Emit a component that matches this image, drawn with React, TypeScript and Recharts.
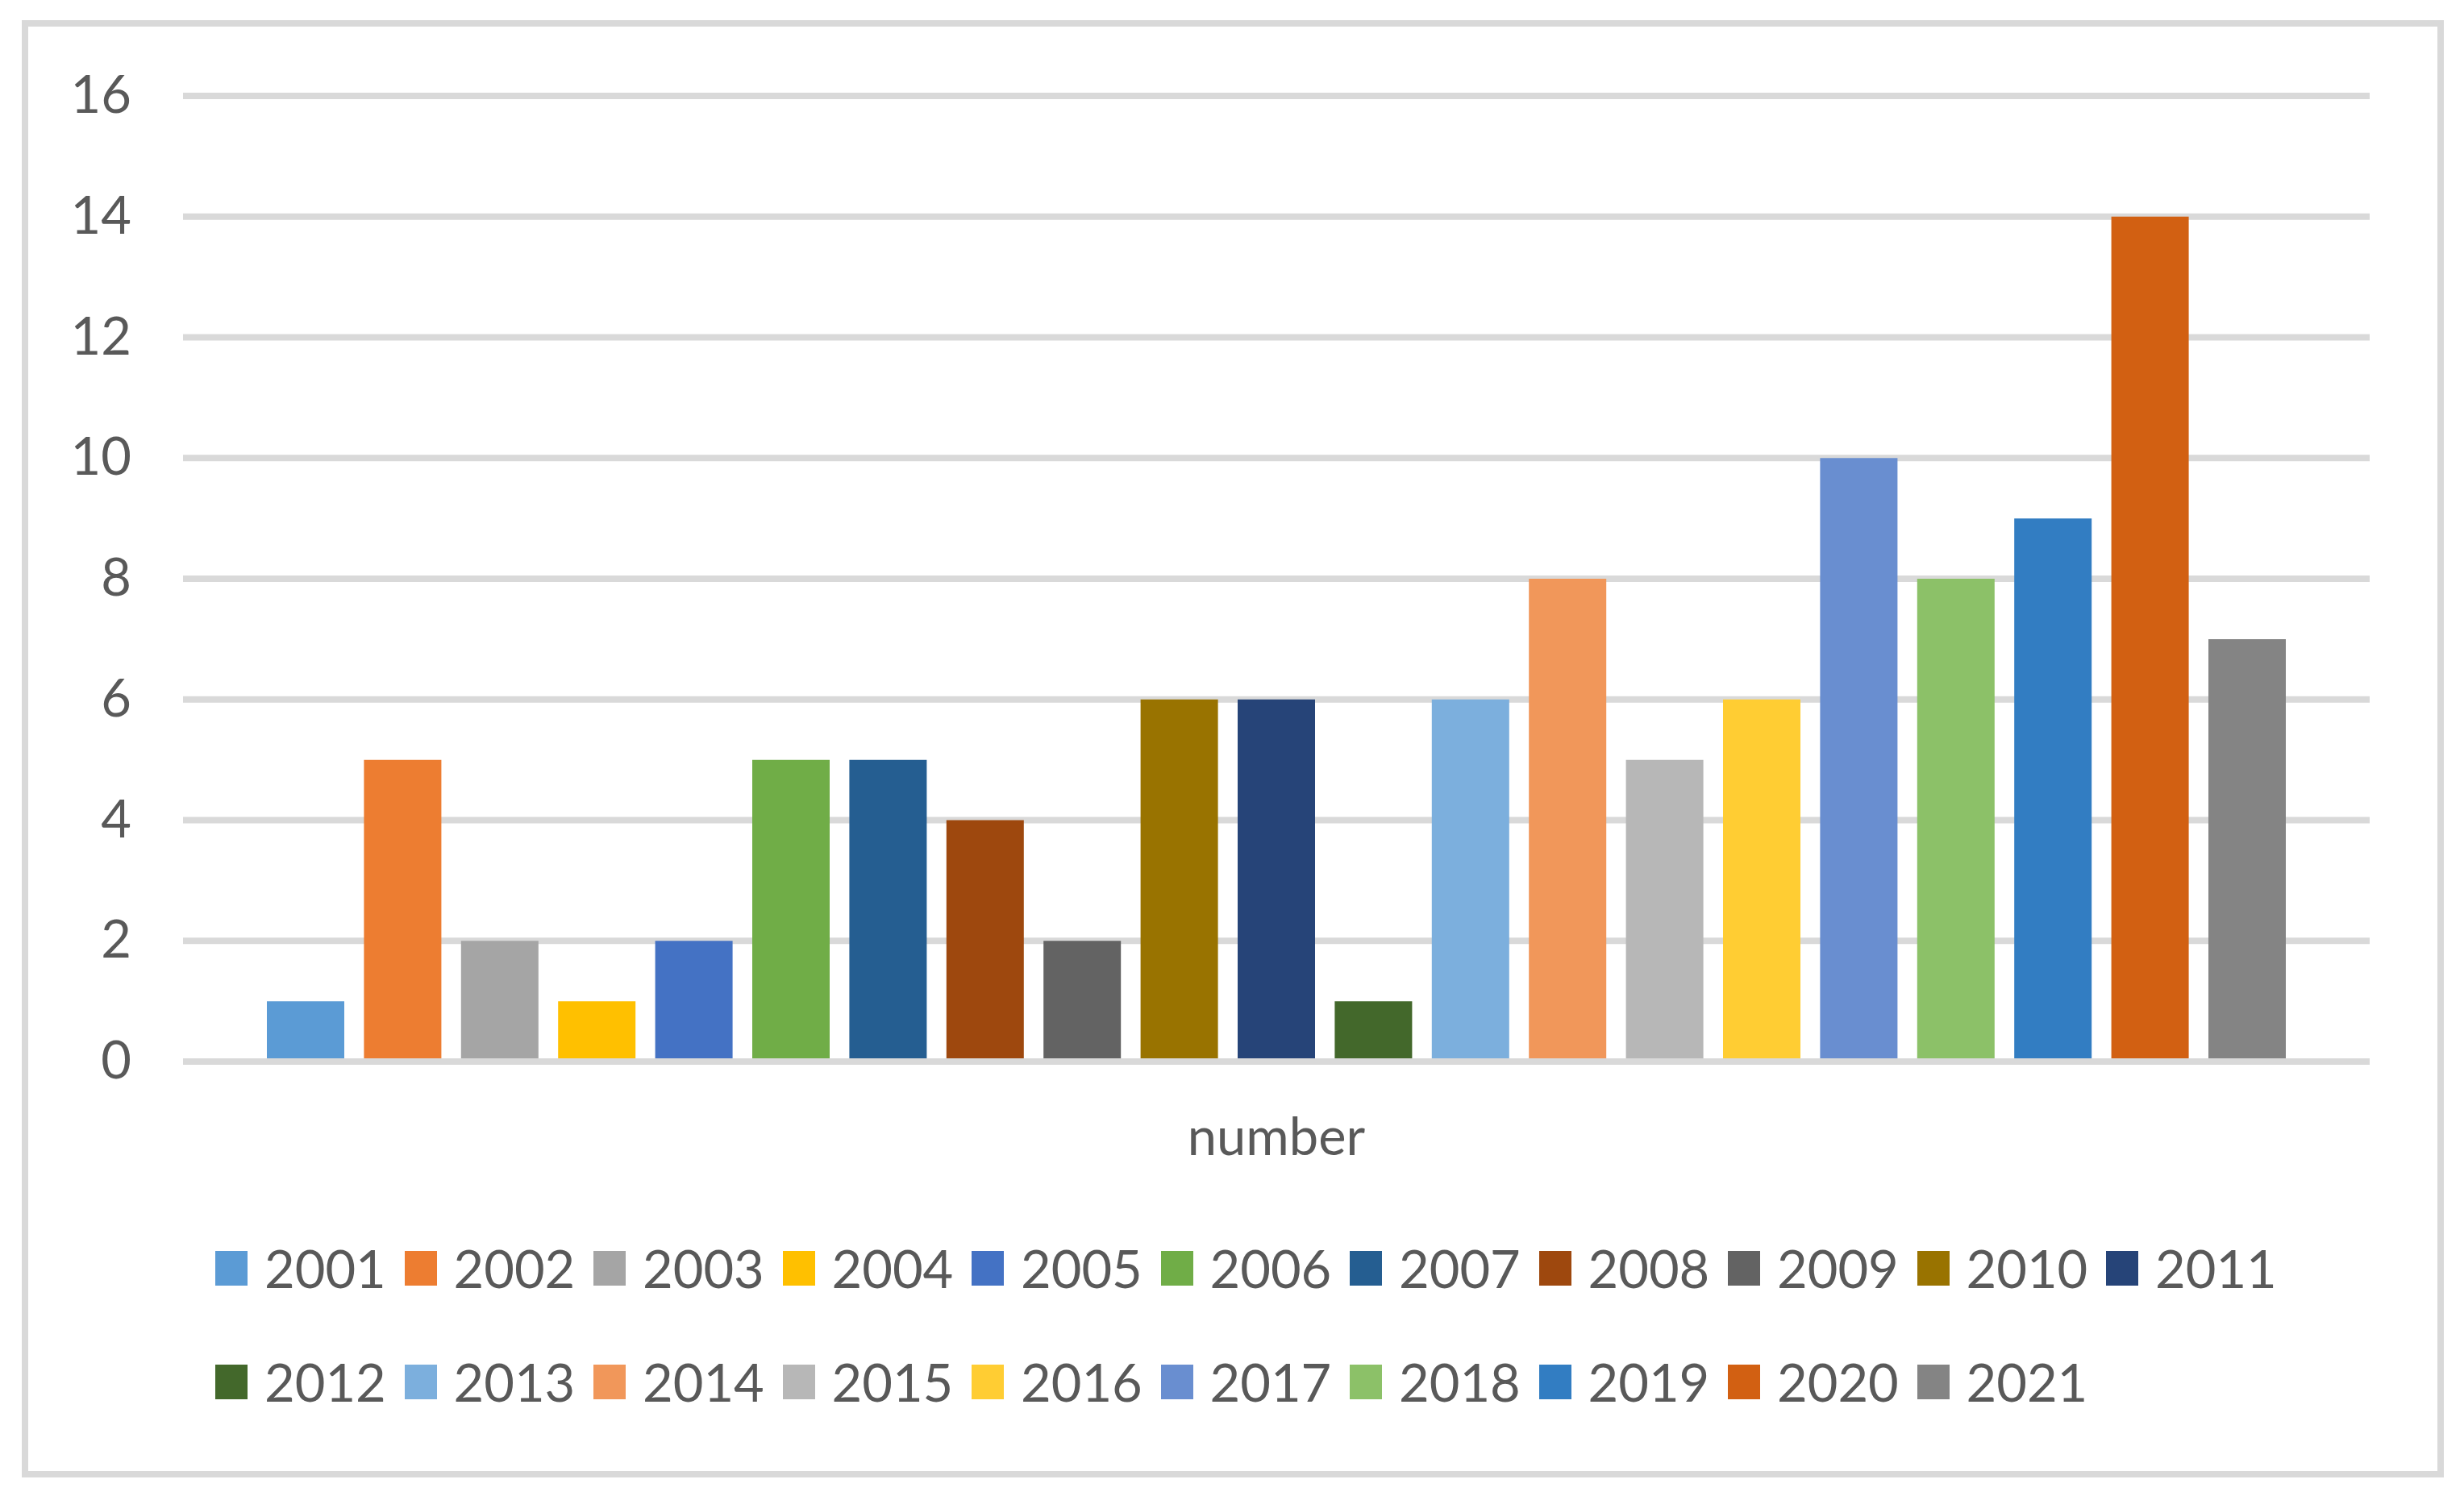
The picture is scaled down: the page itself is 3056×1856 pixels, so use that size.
import React from "react";
import {
  BarChart,
  Bar,
  XAxis,
  YAxis,
  CartesianGrid,
  Legend,
  ReferenceLine,
} from "recharts";

const years = [
  2001, 2002, 2003, 2004, 2005, 2006, 2007, 2008, 2009, 2010, 2011, 2012,
  2013, 2014, 2015, 2016, 2017, 2018, 2019, 2020, 2021,
];
const counts = [1, 5, 2, 1, 2, 5, 5, 4, 2, 6, 6, 1, 6, 8, 5, 6, 10, 8, 9, 14, 7];
const COLORS = [
  "#5B9BD5", "#ED7D31", "#A5A5A5", "#FFC000", "#4472C4", "#70AD47",
  "#255E91", "#9E480E", "#636363", "#997300", "#264478", "#43682B",
  "#7CAFDD", "#F1975A", "#B7B7B7", "#FFCD33", "#698ED0", "#8CC168",
  "#327DC2", "#D26012", "#848484",
];
const yTicks = [0, 2, 4, 6, 8, 10, 12, 14, 16];
const category = "number";

// one category, one series per year (like the excel sheet)
const row: Record<string, string | number> = { name: category };
years.forEach((y, i) => {
  row[`y${y}`] = counts[i];
});
const data = [row];

const GRID = "#D9D9D9";
const TEXT = "#595959";
const FONT = "Lato, 'Open Sans', sans-serif";

const LegendBox = (props: any) => (
  <div style={{ display: "flex", flexWrap: "wrap", width: 2582 }}>
    {(props.payload || []).map((p: any) => (
      <div
        key={p.value}
        style={{ width: 234.5, height: 141, display: "flex", alignItems: "center" }}
      >
        <span
          style={{
            display: "inline-block",
            width: 40,
            height: 43,
            background: p.color,
            marginRight: 21,
          }}
        />
        <span style={{ fontFamily: FONT, fontSize: 65, color: TEXT, lineHeight: 1 }}>
          {p.value}
        </span>
      </div>
    ))}
  </div>
);

export default function App() {
  return (
    <div
      style={{
        position: "absolute",
        left: 0,
        top: 0,
        width: 3056,
        height: 1856,
        background: "#fff",
      }}
    >
      <div
        style={{
          position: "absolute",
          left: 27,
          top: 25,
          width: 3004,
          height: 1808,
          border: `8px solid ${GRID}`,
          boxSizing: "border-box",
        }}
      />
      <div style={{ position: "absolute", left: 0, top: 0 }}>
        <BarChart
          width={3056}
          height={1856}
          data={data}
          margin={{ top: 119, right: 117, bottom: 439, left: 107 }}
          barCategoryGap={104}
          barGap={24.4}
        >
          <CartesianGrid vertical={false} stroke={GRID} strokeWidth={8} />
          <XAxis
            dataKey="name"
            height={100}
            axisLine={false}
            tickLine={false}
            tickSize={0}
            tickMargin={70}
            tick={{ fill: TEXT, fontSize: 65, fontFamily: FONT }}
          />
          <YAxis
            width={120}
            domain={[0, 16]}
            ticks={yTicks}
            axisLine={false}
            tickLine={false}
            tickSize={0}
            tickMargin={64}
            tick={{ fill: TEXT, fontSize: 65, fontFamily: FONT, dy: -2 }}
          />
          {years.map((y, i) => (
            <Bar
              key={y}
              dataKey={`y${y}`}
              name={String(y)}
              fill={COLORS[i]}
              isAnimationActive={false}
            />
          ))}
          <ReferenceLine y={0} stroke={GRID} strokeWidth={8} />
          <Legend
            verticalAlign="middle"
            align="center"
            layout="horizontal"
            content={LegendBox}
            wrapperStyle={{ left: 267, top: 1503, width: 2582 }}
          />
        </BarChart>
      </div>
    </div>
  );
}
